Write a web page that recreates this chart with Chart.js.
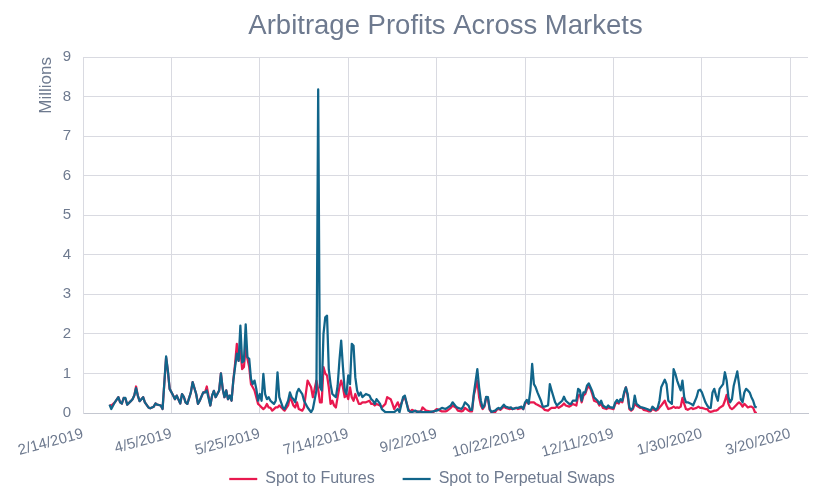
<!DOCTYPE html>
<html>
<head>
<meta charset="utf-8">
<title>Arbitrage Profits Across Markets</title>
<script src="https://cdn.jsdelivr.net/npm/chart.js@4.4.1/dist/chart.umd.min.js"></script>
<style>
  html, body { margin: 0; padding: 0; background: #fff; }
  #wrap { width: 840px; height: 500px; }
</style>
</head>
<body>
<div id="wrap"><canvas id="arbChart" width="840" height="500"></canvas></div>
<script>
const dates = [
  '2019-03-01','2019-03-02','2019-03-04','2019-03-06','2019-03-07','2019-03-08','2019-03-09','2019-03-10','2019-03-11','2019-03-13',
  '2019-03-14','2019-03-15','2019-03-16','2019-03-17','2019-03-18','2019-03-20','2019-03-21','2019-03-23','2019-03-24','2019-03-26',
  '2019-03-27','2019-03-28','2019-03-30','2019-03-31',
  '2019-04-02','2019-04-03','2019-04-04','2019-04-06','2019-04-07','2019-04-08','2019-04-10','2019-04-11','2019-04-12','2019-04-13',
  '2019-04-14','2019-04-16','2019-04-17','2019-04-19','2019-04-20','2019-04-21','2019-04-23','2019-04-24','2019-04-25','2019-04-27',
  '2019-04-28','2019-04-29','2019-04-30',
  '2019-05-02','2019-05-03','2019-05-04','2019-05-05','2019-05-06','2019-05-07','2019-05-08','2019-05-09','2019-05-10','2019-05-11',
  '2019-05-12','2019-05-13','2019-05-14','2019-05-15','2019-05-16','2019-05-17','2019-05-18','2019-05-19','2019-05-20','2019-05-21',
  '2019-05-22','2019-05-23','2019-05-24','2019-05-25','2019-05-26','2019-05-27','2019-05-28','2019-05-29','2019-05-30','2019-05-31',
  '2019-06-01','2019-06-02','2019-06-03','2019-06-04','2019-06-05','2019-06-07','2019-06-08','2019-06-10','2019-06-11','2019-06-12',
  '2019-06-13','2019-06-14','2019-06-15','2019-06-16','2019-06-18','2019-06-19','2019-06-21','2019-06-23','2019-06-24','2019-06-26',
  '2019-06-27','2019-06-28','2019-06-29','2019-06-30',
  '2019-07-01','2019-07-02','2019-07-03','2019-07-04','2019-07-05','2019-07-06','2019-07-07','2019-07-08','2019-07-09','2019-07-10',
  '2019-07-11','2019-07-12','2019-07-13','2019-07-14','2019-07-15','2019-07-16','2019-07-17','2019-07-18','2019-07-19','2019-07-20',
  '2019-07-21','2019-07-22','2019-07-24','2019-07-26','2019-07-27','2019-07-28','2019-07-29','2019-07-30',
  '2019-08-01','2019-08-02','2019-08-04','2019-08-05','2019-08-07','2019-08-08','2019-08-09','2019-08-11','2019-08-12','2019-08-14',
  '2019-08-15','2019-08-17','2019-08-18','2019-08-19','2019-08-21','2019-08-22','2019-08-24','2019-08-25','2019-08-27','2019-08-29',
  '2019-08-31',
  '2019-09-02','2019-09-04','2019-09-05','2019-09-07','2019-09-08','2019-09-10','2019-09-11','2019-09-13','2019-09-14','2019-09-16',
  '2019-09-17','2019-09-18','2019-09-20','2019-09-21','2019-09-22','2019-09-23','2019-09-25','2019-09-26','2019-09-27','2019-09-28',
  '2019-09-29','2019-09-30',
  '2019-10-01','2019-10-02','2019-10-03','2019-10-05','2019-10-06','2019-10-07','2019-10-08','2019-10-10','2019-10-11','2019-10-13',
  '2019-10-14','2019-10-15','2019-10-17','2019-10-18','2019-10-20','2019-10-21','2019-10-22','2019-10-23','2019-10-24','2019-10-25',
  '2019-10-26','2019-10-27','2019-10-28','2019-10-29','2019-10-31',
  '2019-11-01','2019-11-02','2019-11-04','2019-11-05','2019-11-06','2019-11-08','2019-11-09','2019-11-10','2019-11-12','2019-11-13',
  '2019-11-14','2019-11-16','2019-11-17','2019-11-18','2019-11-20','2019-11-21','2019-11-22','2019-11-23','2019-11-24','2019-11-25',
  '2019-11-26','2019-11-27','2019-11-28','2019-11-29','2019-11-30',
  '2019-12-02','2019-12-03','2019-12-04','2019-12-05','2019-12-07','2019-12-08','2019-12-09','2019-12-11','2019-12-12','2019-12-13',
  '2019-12-14','2019-12-15','2019-12-16','2019-12-17','2019-12-18','2019-12-19','2019-12-20','2019-12-21','2019-12-22','2019-12-23',
  '2019-12-24','2019-12-26','2019-12-27','2019-12-28','2019-12-30','2019-12-31',
  '2020-01-01','2020-01-02','2020-01-04','2020-01-05','2020-01-06','2020-01-07','2020-01-09','2020-01-10','2020-01-11','2020-01-13',
  '2020-01-14','2020-01-15','2020-01-16','2020-01-17','2020-01-18','2020-01-19','2020-01-20','2020-01-21','2020-01-22','2020-01-24',
  '2020-01-25','2020-01-27','2020-01-28','2020-01-29','2020-01-30',
  '2020-02-01','2020-02-02','2020-02-03','2020-02-04','2020-02-05','2020-02-06','2020-02-07','2020-02-08','2020-02-09','2020-02-11',
  '2020-02-12','2020-02-13','2020-02-14','2020-02-15','2020-02-16','2020-02-17','2020-02-19','2020-02-20','2020-02-21','2020-02-22',
  '2020-02-23','2020-02-24','2020-02-25','2020-02-26','2020-02-27','2020-02-28','2020-02-29','2020-03-01'
];

const futures = [
  0.19,0.19,0.27,0.40,0.27,0.24,0.38,0.36,0.21,0.30, 0.35,0.44,0.67,0.44,0.30,0.40,0.27,0.14,0.12,0.16, 0.24,0.21,0.19,0.10,
  1.40,1.05,0.61,0.44,0.35,0.44,0.24,0.48,0.41,0.27, 0.23,0.52,0.78,0.48,0.23,0.31,0.52,0.52,0.67,0.19, 0.44,0.56,0.40,
  0.57,1.00,0.61,0.40,0.57,0.35,0.44,0.31,0.82,1.24, 1.75,1.32,1.58,1.11,1.16,1.66,1.37,1.16,0.73,0.65, 0.57,0.40,0.23,0.19,0.14,0.10,0.14,0.23,0.14,0.13,
  0.06,0.10,0.14,0.14,0.19,0.10,0.06,0.19,0.40,0.31, 0.19,0.14,0.27,0.10,0.06,0.14,0.82,0.65,0.40,0.82, 0.60,0.27,0.27,1.16,
  1.00,0.95,0.65,0.23,0.31,0.19,0.14,0.40,0.65,0.82, 0.65,0.40,0.48,0.35,0.65,0.40,0.31,0.48,0.35,0.23, 0.23,0.27,0.27,0.31,0.23,0.23,0.19,0.23,
  0.19,0.14,0.23,0.40,0.35,0.23,0.10,0.27,0.14,0.35, 0.40,0.10,0.02,0.08,0.04,0.04,0.02,0.14,0.06,0.04, 0.02,
  0.10,0.06,0.04,0.04,0.06,0.13,0.19,0.13,0.06,0.04, 0.06,0.13,0.06,0.04,0.04,0.44,0.82,0.40,0.19,0.10, 0.16,0.40,
  0.35,0.08,0.02,0.02,0.08,0.10,0.08,0.16,0.13,0.10, 0.11,0.10,0.13,0.10,0.13,0.10,0.23,0.30,0.24,0.27, 0.27,0.27,0.23,0.21,0.16,
  0.13,0.08,0.06,0.10,0.13,0.13,0.16,0.13,0.19,0.24, 0.19,0.16,0.19,0.23,0.19,0.44,0.46,0.27,0.44,0.48, 0.61,0.69,0.61,0.48,0.31,
  0.27,0.19,0.23,0.13,0.10,0.13,0.12,0.10,0.23,0.27, 0.24,0.31,0.27,0.48,0.65,0.44,0.10,0.06,0.10,0.23, 0.19,0.13,0.13,0.08,0.06,0.04,
  0.04,0.10,0.06,0.08,0.14,0.19,0.31,0.19,0.10,0.13, 0.16,0.13,0.14,0.13,0.16,0.38,0.23,0.10,0.08,0.13, 0.10,0.13,0.16,0.13,0.13,
  0.10,0.10,0.04,0.03,0.04,0.06,0.06,0.08,0.13,0.19, 0.31,0.46,0.23,0.13,0.10,0.13,0.23,0.27,0.23,0.16, 0.23,0.19,0.14,0.16,0.16,0.13,0.02,0.00
];

const swaps = [
  0.21,0.10,0.27,0.40,0.27,0.24,0.38,0.38,0.21,0.30, 0.35,0.44,0.63,0.44,0.30,0.40,0.27,0.14,0.12,0.16, 0.24,0.21,0.19,0.10,
  1.43,1.07,0.61,0.44,0.35,0.44,0.24,0.48,0.41,0.27, 0.23,0.52,0.78,0.48,0.23,0.31,0.52,0.52,0.57,0.19, 0.44,0.56,0.40,
  0.57,1.00,0.61,0.40,0.57,0.35,0.44,0.31,0.82,1.16, 1.50,1.32,2.21,1.28,1.32,2.24,1.41,1.37,0.86,0.73, 0.82,0.61,0.31,0.48,0.31,0.99,0.48,0.35,0.40,0.31,
  0.27,0.23,0.31,1.03,0.40,0.14,0.10,0.31,0.52,0.40, 0.35,0.27,0.52,0.61,0.48,0.31,0.14,0.02,0.10,0.57, 8.18,0.65,0.57,2.00,
  2.42,2.46,1.10,0.73,0.48,0.44,0.40,0.69,1.32,1.83, 1.16,0.57,0.48,0.95,0.73,1.75,1.70,0.90,0.57,0.44, 0.52,0.40,0.48,0.44,0.35,0.31,0.23,0.35,
  0.23,0.10,0.02,0.02,0.02,0.02,0.02,0.10,0.02,0.40, 0.44,0.06,0.04,0.02,0.06,0.02,0.04,0.02,0.02,0.02, 0.04,
  0.06,0.10,0.13,0.10,0.13,0.19,0.27,0.16,0.13,0.10, 0.16,0.27,0.19,0.08,0.08,0.48,1.11,0.65,0.31,0.13, 0.19,0.41,
  0.40,0.10,0.03,0.06,0.10,0.13,0.10,0.21,0.16,0.13, 0.14,0.10,0.13,0.13,0.16,0.10,0.27,0.33,0.23,0.57, 1.24,0.73,0.65,0.52,0.31,
  0.16,0.16,0.19,0.73,0.57,0.27,0.19,0.23,0.31,0.41, 0.31,0.23,0.23,0.31,0.31,0.61,0.57,0.31,0.52,0.52, 0.69,0.75,0.65,0.55,0.40,
  0.31,0.23,0.31,0.19,0.13,0.19,0.15,0.13,0.27,0.33, 0.27,0.35,0.31,0.52,0.65,0.48,0.13,0.08,0.13,0.44, 0.23,0.16,0.14,0.13,0.10,0.08,
  0.06,0.16,0.08,0.13,0.31,0.65,0.84,0.73,0.31,0.23, 1.11,0.99,0.82,0.69,0.57,0.82,0.40,0.27,0.27,0.23, 0.19,0.40,0.57,0.59,0.52,
  0.27,0.19,0.13,0.13,0.52,0.61,0.44,0.31,0.61,0.73, 1.03,0.82,0.40,0.27,0.35,0.69,1.05,0.73,0.35,0.27, 0.52,0.61,0.57,0.52,0.40,0.31,0.16,0.14
];

const xTickLabels = ['2/14/2019', '4/5/2019', '5/25/2019', '7/14/2019', '9/2/2019',
                     '10/22/2019', '12/11/2019', '1/30/2020', '3/20/2020'];
const axisEnd = '3/30/2020';

const DAY = 86400000;
const origin = Date.UTC(2019, 1, 14);
function isoToDay(s) {
  const [y, m, d] = s.split('-').map(Number);
  return (Date.UTC(y, m - 1, d) - origin) / DAY;
}
function usToDay(s) {
  const [m, d, y] = s.split('/').map(Number);
  return (Date.UTC(y, m - 1, d) - origin) / DAY;
}

const dayValues = dates.map(isoToDay);
const xTickDays = xTickLabels.map(usToDay);

const textColor = '#6E7A8F';
const gridColor = '#D9DAE1';
Chart.defaults.font.family = '"Liberation Sans", Arial, sans-serif';

// legend row sits closer to the axis labels than its box allows,
// so lift only the top edge (the bottom stays put for the clip area)
const legendLift = {
  id: 'legendLift',
  afterLayout(chart) {
    const lg = chart.legend;
    const shift = (lg.top + lg.options.labels.padding + 8) - 479;
    lg.top -= shift;
  }
};

const ctx = document.getElementById('arbChart').getContext('2d');
new Chart(ctx, {
  type: 'line',
  data: {
    datasets: [{
      label: 'Spot to Futures',
      data: dayValues.map((x, i) => ({ x, y: futures[i] })),
      borderColor: '#E8194F',
      backgroundColor: '#E8194F',
      borderWidth: 2.25,
      pointRadius: 0,
      borderJoinStyle: 'round',
      tension: 0,
      order: 2
    }, {
      label: 'Spot to Perpetual Swaps',
      data: dayValues.map((x, i) => ({ x, y: swaps[i] })),
      borderColor: '#11658A',
      backgroundColor: '#11658A',
      borderWidth: 2.25,
      pointRadius: 0,
      borderJoinStyle: 'round',
      tension: 0,
      order: 1
    }]
  },
  options: {
    responsive: false,
    animation: false,
    layout: { padding: { left: 36, right: 32, top: 0, bottom: 3 } },
    plugins: {
      title: {
        display: true,
        fullSize: false,
        text: 'Arbitrage Profits Across Markets',
        color: textColor,
        font: { size: 27.5, weight: 'normal' },
        padding: { top: 10, bottom: 14 }
      },
      legend: {
        position: 'bottom',
        maxHeight: 36,
        labels: {
          color: textColor,
          font: { size: 16 },
          usePointStyle: true,
          pointStyle: 'line',
          pointStyleWidth: 28,
          padding: 28,
          sort: (a, b) => a.datasetIndex - b.datasetIndex
        }
      },
      tooltip: { enabled: false }
    },
    scales: {
      x: {
        type: 'linear',
        min: 0,
        max: usToDay(axisEnd),
        afterBuildTicks: scale => { scale.ticks = xTickDays.map(v => ({ value: v })); },
        afterFit: scale => { scale.height = 48; },
        grid: { color: gridColor, drawTicks: false },
        border: { color: '#C4C7D0' },
        ticks: {
          autoSkip: false,
          minRotation: 15,
          maxRotation: 15,
          padding: 12,
          color: textColor,
          font: { size: 15 },
          callback: v => {
            const i = xTickDays.indexOf(v);
            return i >= 0 ? xTickLabels[i] : '';
          }
        }
      },
      y: {
        min: 0,
        max: 9,
        afterFit: scale => { scale.width = 47; },
        grid: { color: gridColor, drawTicks: false },
        border: { color: gridColor },
        ticks: { stepSize: 1, padding: 12, color: textColor, font: { size: 15 } },
        title: {
          display: true,
          text: 'Millions',
          align: 'end',
          color: textColor,
          font: { size: 17 },
          padding: { top: 0, bottom: 0 }
        }
      }
    }
  },
  plugins: [legendLift]
});
</script>
</body>
</html>
